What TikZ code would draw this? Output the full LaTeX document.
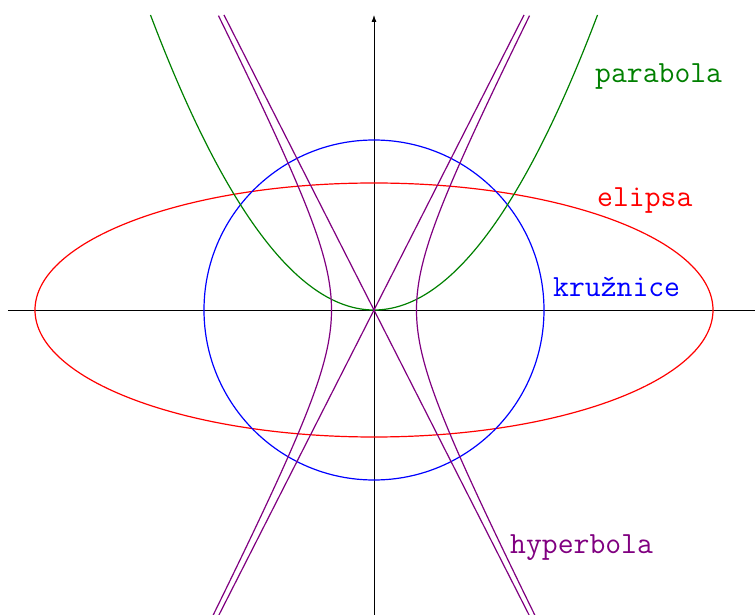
\documentclass[tikz,border=0pt]{standalone}
\usepackage{fontspec}
\usetikzlibrary{arrows.meta}
\definecolor{pgreen}{RGB}{0,128,0}
\definecolor{ppurple}{RGB}{128,0,128}
\tikzset{
  curve/.style={line width=1.2pt},
  axis/.style={line width=0.8pt,black},
  lbl/.style={anchor=base west,inner sep=0pt,font=\ttfamily\fontsize{30.8}{34}\selectfont},
}
\begin{document}
\begin{tikzpicture}[x=1pt,y=1pt]
\useasboundingbox (-374,-305) rectangle (381,310);
\clip (-374,-305) rectangle (381,310);
% axes
\draw[axis] (-366,0) -- (381,0);
\draw[axis,-{Latex[length=7pt,width=5pt]}] (0,-310) -- (0,295);
% ellipse
\draw[curve,red] (0,0) ellipse [x radius=339, y radius=127];
% circle
\draw[curve,blue] (0,0) circle [radius=170];
% parabola
\draw[curve,pgreen] plot[domain=-223.5:223.5,samples=120,smooth] (\x,{295*(\x/223.5)^2});
% hyperbola branches
\draw[curve,ppurple] plot[domain=-2.03:1.9735,samples=150,smooth,variable=\t] ({42.5*cosh(\t)},{83.6*sinh(\t)});
\draw[curve,ppurple] plot[domain=-2.03:1.9735,samples=150,smooth,variable=\t] ({-42.5*cosh(\t)},{83.6*sinh(\t)});
% asymptotes
\draw[curve,ppurple] (-160,-314.7) -- (150,295);
\draw[curve,ppurple] (160,-314.7) -- (-150,295);
% labels
\node[lbl,text=pgreen] (lp) at (221,227) {parabola};
\node[lbl,text=red] (le) at (223,103) {elipsa};
\node[lbl,text=blue] (lk) at (179,13) {kružnice};
\node[lbl,text=ppurple] (lh) at (136,-243) {hyperbola};
\end{tikzpicture}
\end{document}
